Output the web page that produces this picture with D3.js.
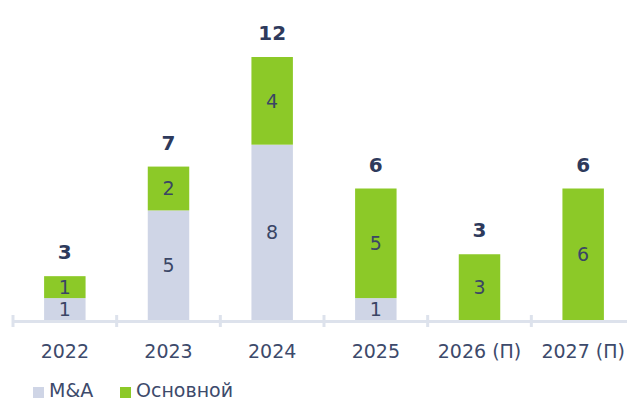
<!DOCTYPE html>
<html>
<head>
<meta charset="utf-8">
<script src="https://cdn.jsdelivr.net/npm/d3@7"></script>
<style>
  body { margin: 0; background: #fff; }
  svg text { font-family: "DejaVu Sans", "Noto Sans", sans-serif; }
</style>
</head>
<body>
<svg id="chart" width="627" height="401"></svg>
<script>
// data
const years = ['2022', '2023', '2024', '2025', '2026 (П)', '2027 (П)'];
const mna = [1, 5, 8, 1, 0, 0];
const core = [1, 2, 4, 5, 3, 6];
const totals = [3, 7, 12, 6, 3, 6]; // as printed above the bars
const seriesNames = ['M&A', 'Основной'];

const colors = { 'M&A': '#cfd5e6', 'Основной': '#8cc928' };
const textColor = '#3a4565';

const svg = d3.select('#chart');
const baseY = 320;

const x = d3.scaleBand()
  .domain(years)
  .range([13, 635])
  .paddingInner(0.6)
  .paddingOuter(0.3);

const y = d3.scaleLinear()
  .domain([0, 12])
  .range([baseY, 57]);

const rows = years.map((yr, i) => ({ year: yr, 'M&A': mna[i], 'Основной': core[i], total: totals[i] }));
const stack = d3.stack().keys(seriesNames)(rows);

// bars
stack.forEach(layer => {
  const g = svg.append('g');
  const segs = layer.filter(d => d[1] > d[0]);
  g.selectAll('rect')
    .data(segs)
    .enter()
    .append('rect')
    .attr('x', d => x(d.data.year))
    .attr('width', x.bandwidth())
    .attr('y', d => y(d[1]))
    .attr('height', d => y(d[0]) - y(d[1]))
    .attr('fill', colors[layer.key]);
  g.selectAll('text')
    .data(segs)
    .enter()
    .append('text')
    .attr('x', d => x(d.data.year) + x.bandwidth() / 2)
    .attr('y', d => (y(d[0]) + y(d[1])) / 2)
    .attr('dy', '0.36em')
    .attr('text-anchor', 'middle')
    .attr('font-size', 19)
    .attr('fill', textColor)
    .text(d => d[1] - d[0]);
});

// totals
svg.append('g').selectAll('text')
  .data(rows)
  .enter()
  .append('text')
  .attr('x', d => x(d.year) + x.bandwidth() / 2)
  .attr('y', d => y(d['M&A'] + d['Основной']) - 17)
  .attr('text-anchor', 'middle')
  .attr('font-size', 20)
  .attr('font-weight', 700)
  .attr('fill', '#2e3a5c')
  .text(d => d.total);

// axis
const step = x.step();
const gap = step - x.bandwidth();
const axis = svg.append('g');
axis.append('line')
  .attr('x1', 12).attr('x2', 627)
  .attr('y1', baseY + 1.5).attr('y2', baseY + 1.5)
  .attr('stroke', '#dde2ec')
  .attr('stroke-width', 3);
axis.selectAll('line.tick')
  .data(years)
  .enter()
  .append('line')
  .attr('class', 'tick')
  .attr('x1', d => x(d) - gap / 2)
  .attr('x2', d => x(d) - gap / 2)
  .attr('y1', baseY - 5).attr('y2', baseY + 7)
  .attr('stroke', '#dde2ec')
  .attr('stroke-width', 3);
axis.selectAll('text')
  .data(years)
  .enter()
  .append('text')
  .attr('x', d => x(d) + x.bandwidth() / 2)
  .attr('y', 358)
  .attr('text-anchor', 'middle')
  .attr('font-size', 19)
  .attr('fill', '#3d4a6b')
  .text(d => d);

// legend
const legend = svg.append('g');
const legX = [33, 120];
seriesNames.forEach((name, i) => {
  legend.append('rect')
    .attr('x', legX[i]).attr('y', 387)
    .attr('width', 11).attr('height', 11)
    .attr('fill', colors[name]);
  legend.append('text')
    .attr('x', legX[i] + 16).attr('y', 397)
    .attr('font-size', 19)
    .attr('fill', '#3d4a6b')
    .text(name);
});
</script>
</body>
</html>
